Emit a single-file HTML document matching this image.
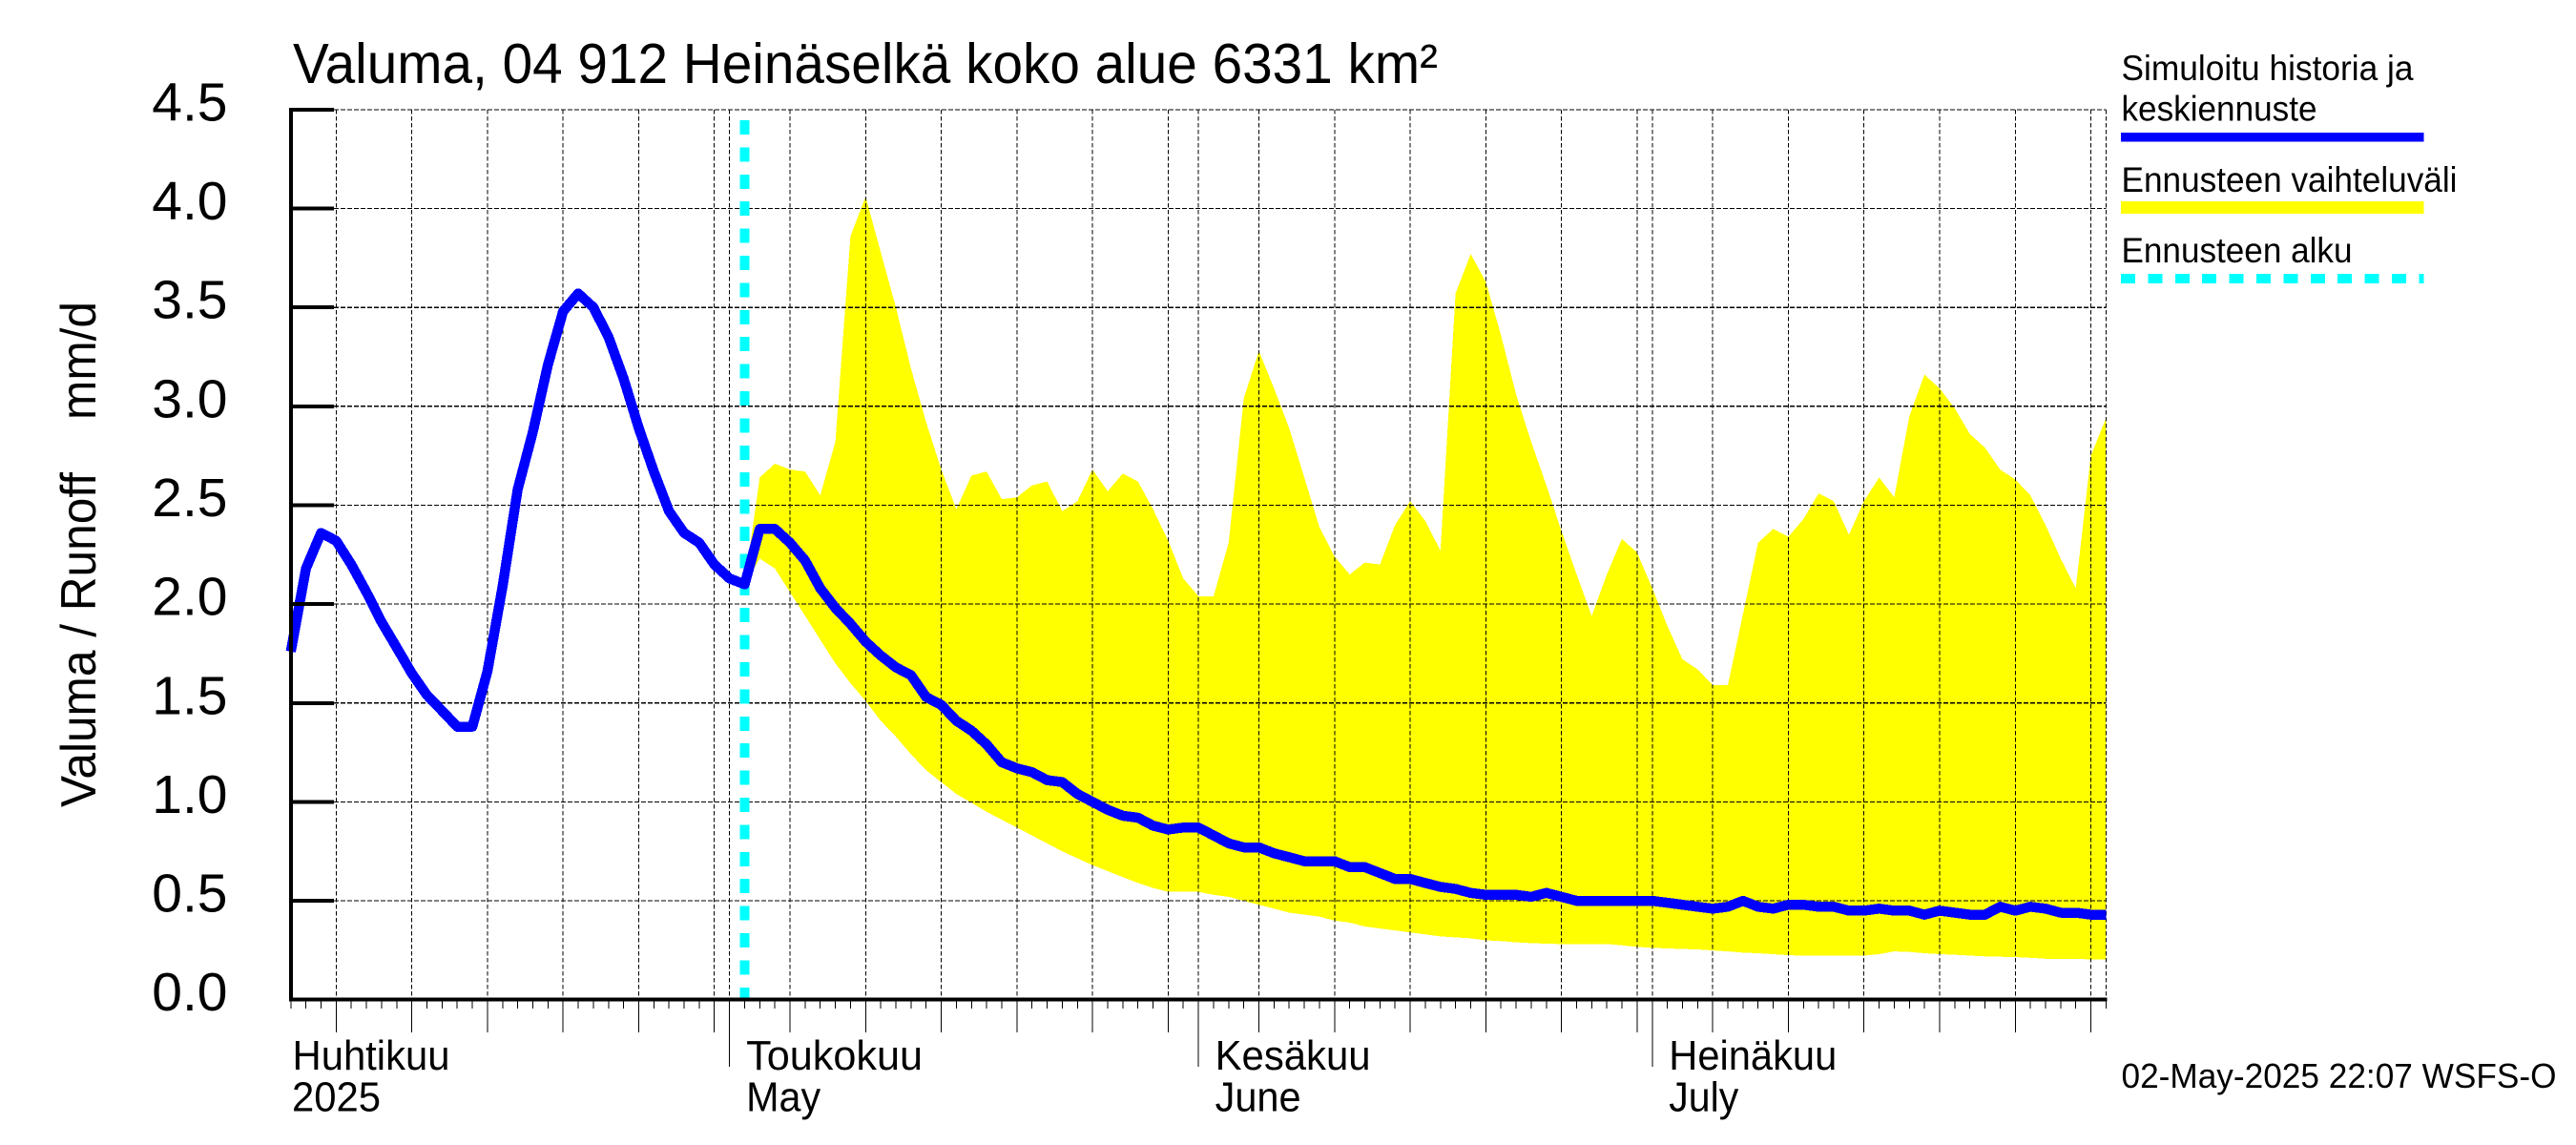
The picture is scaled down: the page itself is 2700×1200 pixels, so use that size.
<!DOCTYPE html>
<html lang="fi">
<head>
<meta charset="utf-8">
<title>Valuma, 04 912 Heinäselkä koko alue</title>
<style>
html,body{margin:0;padding:0;background:#fff;}
svg{display:block;}
text{font-family:"Liberation Sans",sans-serif;fill:#000;}
</style>
</head>
<body>
<svg id="chart" xmlns="http://www.w3.org/2000/svg" width="2700" height="1200" viewBox="0 0 2700 1200">
  <rect x="0" y="0" width="2700" height="1200" fill="#fff"/>
  <g id="band-layer"></g>
  <g id="grid-layer"></g>
  <g id="start-layer"></g>
  <g id="line-layer"></g>
  <g id="axis-layer"></g>

  <text x="307" y="87" font-size="59" textLength="1200" lengthAdjust="spacingAndGlyphs">Valuma, 04 912 Heinäselkä koko alue 6331 km²</text>
  <text transform="translate(100,846) rotate(-90)" font-size="52" textLength="530" lengthAdjust="spacingAndGlyphs" style="white-space:pre" xml:space="preserve">Valuma / Runoff    mm/d</text>

  <g>
    <text x="2223.5" y="84" font-size="37.5" textLength="306" lengthAdjust="spacingAndGlyphs">Simuloitu historia ja</text>
    <text x="2223.5" y="126.5" font-size="37.5" textLength="205" lengthAdjust="spacingAndGlyphs">keskiennuste</text>
    <rect x="2223" y="139" width="317.5" height="9.5" fill="#0000ff" shape-rendering="crispEdges"/>
    <text x="2223.5" y="201" font-size="37.5" textLength="352" lengthAdjust="spacingAndGlyphs">Ennusteen vaihteluväli</text>
    <rect x="2223" y="211" width="317.5" height="13" fill="#ffff00" shape-rendering="crispEdges"/>
    <text x="2223.5" y="275" font-size="37.5" textLength="242" lengthAdjust="spacingAndGlyphs">Ennusteen alku</text>
    <line x1="2223" y1="292" x2="2540.5" y2="292" stroke="#00ffff" stroke-width="10" stroke-dasharray="15 13.4" shape-rendering="crispEdges"/>
  </g>
  <text x="2223.5" y="1140" font-size="36" textLength="456" lengthAdjust="spacingAndGlyphs">02-May-2025 22:07 WSFS-O</text>
</svg>

<script>
// Series values, one per day starting 2 April 2025 (mm/d)
const simulated = [
  1.76,2.18,2.36,2.32,2.20,2.06,1.91,1.78,1.65,1.54,
  1.46,1.38,1.38,1.66,2.09,2.58,2.87,3.21,3.48,3.57,
  3.50,3.35,3.14,2.89,2.67,2.47,2.36,2.31,2.20,2.13,
  2.10,2.38,2.38,2.31,2.22,2.08,1.98,1.90,1.81,1.74,
  1.68,1.64,1.53,1.49,1.41,1.36,1.29,1.20,1.17,1.15,
  1.11,1.10,1.04,1.00,.96,.93,.92,.88,.86,.87,
  .87,.83,.79,.77,.77,.74,.72,.70,.70,.70,
  .67,.67,.64,.61,.61,.59,.57,.56,.54,.53,
  .53,.53,.52,.54,.52,.50,.50,.50,.50,.50,
  .50,.49,.48,.47,.46,.47,.50,.47,.46,.48,
  .48,.47,.47,.45,.45,.46,.45,.45,.43,.45,
  .44,.43,.43,.47,.45,.47,.46,.44,.44,.43,.43
];
// Forecast band, one per day starting at forecastStart
const forecastUpper = [
  2.10,2.64,2.71,2.68,2.67,2.55,2.82,3.86,4.06,3.78,
  3.50,3.19,2.92,2.68,2.48,2.65,2.67,2.53,2.54,2.60,
  2.62,2.47,2.52,2.68,2.57,2.66,2.62,2.48,2.32,2.13,
  2.04,2.04,2.31,3.04,3.28,3.09,2.89,2.64,2.39,2.24,
  2.15,2.21,2.20,2.40,2.52,2.42,2.27,3.57,3.77,3.63,
  3.36,3.06,2.82,2.60,2.37,2.15,1.94,2.15,2.33,2.26,
  2.08,1.89,1.72,1.67,1.59,1.59,1.95,2.31,2.38,2.34,
  2.43,2.56,2.52,2.35,2.52,2.64,2.54,2.95,3.16,3.09,
  2.99,2.86,2.79,2.68,2.63,2.55,2.40,2.23,2.08,2.75,2.94
];
const forecastLower = [
  2.10,2.23,2.18,2.06,1.94,1.82,1.70,1.60,1.51,1.41,
  1.33,1.24,1.16,1.10,1.04,.995,.95,.91,.87,.83,
  .79,.75,.715,.68,.65,.62,.59,.565,.545,.545,
  .545,.53,.52,.50,.48,.46,.44,.43,.42,.40,
  .39,.37,.36,.35,.34,.33,.32,.315,.31,.30,
  .296,.29,.286,.283,.281,.281,.281,.281,.275,.267,
  .262,.259,.256,.254,.249,.244,.238,.235,.23,.225,
  .223,.223,.223,.223,.223,.23,.244,.241,.235,.23,
  .227,.223,.219,.217,.215,.212,.207,.207,.206,.204,.204
];
const forecastStart = 30;

// Tick labels and calendar
const yTickLabels = ["0.0","0.5","1.0","1.5","2.0","2.5","3.0","3.5","4.0","4.5"];
const yTickValues = [0,0.5,1,1.5,2,2.5,3,3.5,4,4.5];
const monthLabelsFi = ["Huhtikuu","Toukokuu","Kesäkuu","Heinäkuu"];
const monthLabelsEn = ["2025","May","June","July"];
const monthLengths = [30,31,30,31];
const firstDayOfMonth = 2;
const dayCount = 121;

const SVGNS = "http://www.w3.org/2000/svg";
const plotLeft = 304.8, dayWidth = 15.855, plotRight = plotLeft + dayWidth * (dayCount - 1);
const plotBottom = 1047.7, unitHeight = 207.3, yMax = 4.5;
const labelWidthFi = {"Huhtikuu":165,"Toukokuu":185,"Kesäkuu":163,"Heinäkuu":176};
const labelWidthEn = {"2025":93,"May":78,"June":90,"July":73};

function xScale(d){ return plotLeft + dayWidth * d; }
function yScale(v){ return plotBottom - unitHeight * v; }
function mk(tag, attrs, parent){
  const el = document.createElementNS(SVGNS, tag);
  for (const k in attrs) el.setAttribute(k, attrs[k]);
  parent.appendChild(el);
  return el;
}
function monthText(x, y, text, w, parent){
  return mk("text",{x:x,y:y,"font-size":44,textLength:w,lengthAdjust:"spacingAndGlyphs"},parent);
}
const bandLayer = document.getElementById("band-layer");
const gridLayer = document.getElementById("grid-layer");
const startLayer = document.getElementById("start-layer");
const lineLayer = document.getElementById("line-layer");
const axisLayer = document.getElementById("axis-layer");

// Forecast band
const bandPts = [];
forecastUpper.forEach(function(v,i){ bandPts.push(xScale(forecastStart+i).toFixed(1)+","+yScale(v).toFixed(1)); });
for (let i = forecastLower.length-1; i >= 0; i--) bandPts.push(xScale(forecastStart+i).toFixed(1)+","+yScale(forecastLower[i]).toFixed(1));
const band = mk("polygon",{points:bandPts.join(" "),fill:"#ffff00","shape-rendering":"crispEdges"},bandLayer);



// Horizontal grid and y ticks
yTickValues.forEach(function(v,i){
  const y = yScale(v);
  if (v > 0) {
    const g = mk("line",{x1:350,y1:y,x2:plotRight,y2:y,stroke:"#000","stroke-width":1.2,"stroke-dasharray":"4.8 2.2","shape-rendering":"crispEdges"},gridLayer);
    
    
    const t = mk("line",{x1:plotLeft,y1:y,x2:350,y2:y,stroke:"#000","stroke-width":4,"shape-rendering":"crispEdges"},axisLayer);
    
    
  }
  const lab = mk("text",{x:238.5,y:y+11.5,"font-size":57,"text-anchor":"end"},axisLayer);
  
  
  lab.textContent = yTickLabels[i];
});

// Day, five-day and month ticks
let month = 0, dom = firstDayOfMonth;
for (let d = 0; d < dayCount; d++) {
  const x = xScale(d);
  const isFive = dom % 5 === 0;
  const isMonthStart = dom === 1;
  if (isFive || isMonthStart || d === dayCount-1) {
    const g = mk("line",{x1:x,y1:yScale(yMax),x2:x,y2:plotBottom,stroke:"#000","stroke-width":1,"stroke-dasharray":"4.8 2.2","shape-rendering":"crispEdges"},gridLayer);
    
    
  }
  const tickEnd = isMonthStart ? 1118 : (isFive ? 1082 : 1057);
  const tick = mk("line",{x1:x,y1:plotBottom,x2:x,y2:tickEnd,stroke:"#000","stroke-width":1,"shape-rendering":"crispEdges"},axisLayer);
  
  
  if (isMonthStart) {
    const fi = monthText(x+17.5,1121,monthLabelsFi[month],labelWidthFi[monthLabelsFi[month]],axisLayer);
    
    
    fi.textContent = monthLabelsFi[month];
    const en = monthText(x+17.5,1164.5,monthLabelsEn[month],labelWidthEn[monthLabelsEn[month]],axisLayer);
    
    
    en.textContent = monthLabelsEn[month];
  }
  dom++;
  if (dom > monthLengths[month]) { dom = 1; month++; }
}
const fi0 = monthText(306.5,1121,monthLabelsFi[0],labelWidthFi[monthLabelsFi[0]],axisLayer);


fi0.textContent = monthLabelsFi[0];
const en0 = monthText(306,1164.5,monthLabelsEn[0],labelWidthEn[monthLabelsEn[0]],axisLayer);


en0.textContent = monthLabelsEn[0];

// Forecast start marker
const startLine = mk("line",{x1:xScale(forecastStart),y1:126,x2:xScale(forecastStart),y2:plotBottom,stroke:"#00ffff","stroke-width":10,"stroke-dasharray":"15 13.4","shape-rendering":"crispEdges"},startLayer);



// Simulated / mean forecast line
const linePts = simulated.map(function(v,i){ return xScale(i).toFixed(1)+","+yScale(v).toFixed(1); }).join(" ");
const simLine = mk("polyline",{points:linePts,fill:"none",stroke:"#0000ff","stroke-width":10.5,"stroke-linejoin":"round","shape-rendering":"crispEdges"},lineLayer);



// Axis lines
const yAxis = mk("line",{x1:plotLeft,y1:yScale(yMax)-2,x2:plotLeft,y2:plotBottom+2,stroke:"#000","stroke-width":4,"shape-rendering":"crispEdges"},axisLayer);


const topTick = mk("line",{x1:plotLeft,y1:yScale(yMax),x2:350,y2:yScale(yMax),stroke:"#000","stroke-width":4,"shape-rendering":"crispEdges"},axisLayer);


const xAxis = mk("line",{x1:plotLeft-2,y1:plotBottom,x2:plotRight+1,y2:plotBottom,stroke:"#000","stroke-width":4,"shape-rendering":"crispEdges"},axisLayer);


</script>
</body>
</html>
